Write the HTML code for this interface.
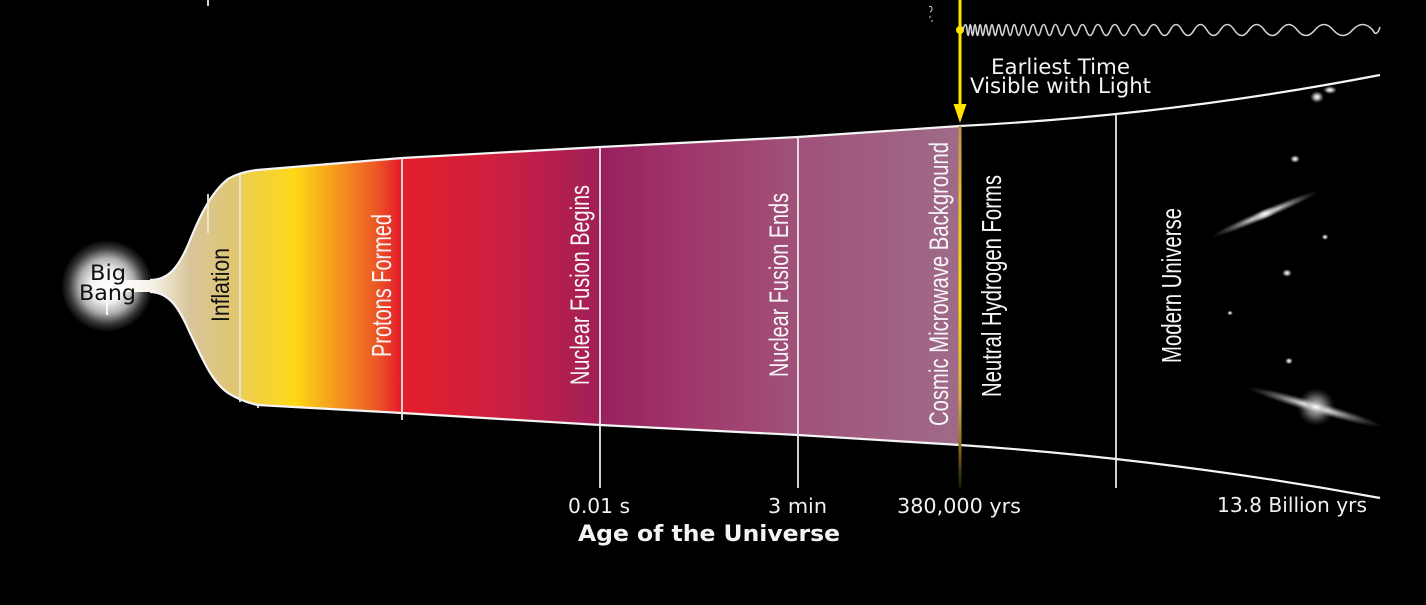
<!DOCTYPE html>
<html>
<head>
<meta charset="utf-8">
<style>
  html, body { margin: 0; padding: 0; background: #000; }
  body { width: 1426px; height: 605px; overflow: hidden; }
  svg { display: block; }
</style>
</head>
<body>
<svg width="1426" height="605" viewBox="0 0 1426 605" xmlns="http://www.w3.org/2000/svg">
  <defs>
    <linearGradient id="band" gradientUnits="userSpaceOnUse" x1="120" y1="0" x2="960" y2="0">
      <stop offset="0" stop-color="#ffffff"/>
      <stop offset="0.036" stop-color="#f6f2e8"/>
      <stop offset="0.06" stop-color="#e8dcc0"/>
      <stop offset="0.083" stop-color="#d8c59c"/>
      <stop offset="0.1405" stop-color="#e0c66c"/>
      <stop offset="0.145" stop-color="#eccf52"/>
      <stop offset="0.208" stop-color="#fdd816"/>
      <stop offset="0.262" stop-color="#f4931f"/>
      <stop offset="0.304" stop-color="#ec5a26"/>
      <stop offset="0.333" stop-color="#e51e2a"/>
      <stop offset="0.452" stop-color="#cc1f40"/>
      <stop offset="0.568" stop-color="#a21f58"/>
      <stop offset="0.574" stop-color="#98205f"/>
      <stop offset="0.69" stop-color="#a03a6c"/>
      <stop offset="0.807" stop-color="#a0527a"/>
      <stop offset="1" stop-color="#9f6b88"/>
    </linearGradient>
    <radialGradient id="glow" cx="107" cy="286" r="46" gradientUnits="userSpaceOnUse">
      <stop offset="0" stop-color="#ffffff"/>
      <stop offset="0.35" stop-color="#f2f2f2"/>
      <stop offset="0.6" stop-color="#b0b0b0"/>
      <stop offset="0.82" stop-color="#3a3a3a"/>
      <stop offset="1" stop-color="#000000"/>
    </radialGradient>
    <linearGradient id="yline" gradientUnits="userSpaceOnUse" x1="0" y1="126" x2="0" y2="488">
      <stop offset="0" stop-color="#c09050"/>
      <stop offset="0.2" stop-color="#e8c030"/>
      <stop offset="0.48" stop-color="#ffe000"/>
      <stop offset="0.75" stop-color="#d8b040"/>
      <stop offset="0.88" stop-color="#8a7020"/>
      <stop offset="1" stop-color="#1a1604"/>
    </linearGradient>
    <radialGradient id="blob">
      <stop offset="0" stop-color="#ffffff" stop-opacity="1"/>
      <stop offset="0.4" stop-color="#d0d0d0" stop-opacity="0.85"/>
      <stop offset="1" stop-color="#808080" stop-opacity="0"/>
    </radialGradient>
    <radialGradient id="disk">
      <stop offset="0" stop-color="#ffffff" stop-opacity="1"/>
      <stop offset="0.3" stop-color="#dddddd" stop-opacity="0.8"/>
      <stop offset="1" stop-color="#888888" stop-opacity="0"/>
    </radialGradient>
    <radialGradient id="bulge">
      <stop offset="0" stop-color="#ffffff" stop-opacity="0.9"/>
      <stop offset="0.5" stop-color="#bbbbbb" stop-opacity="0.55"/>
      <stop offset="1" stop-color="#666666" stop-opacity="0"/>
    </radialGradient>
  </defs>

  <rect x="0" y="0" width="1426" height="605" fill="#000"/>

  <!-- Big Bang glow -->
  <circle cx="107" cy="286" r="46" fill="url(#glow)"/>

  <!-- Main band -->
  <path d="M118,280 L150,280 C168,280 178,268 188,245 C198,220 210,193 228,179 C238,173 248,171 257,170 L402,158 L600,147 L798,137 L960,126 L960,445 L798,435 L600,425 L402,413 L258,405 C248,403 238,399 228,393 C212,382 203,360 190,333 C180,310 170,292 150,292 L118,292 Z" fill="url(#band)"/>

  <!-- Outline curves -->
  <path d="M150,280 C168,280 178,268 188,245 C198,220 210,193 228,179 C238,173 248,171 257,170 L402,158 L600,147 L798,137 L960,126 Q1170,115.4 1380,75" fill="none" stroke="#f4f4f4" stroke-width="2.2"/>
  <path d="M150,292 C170,292 180,310 190,333 C203,360 212,382 228,393 C238,399 248,403 258,405 L402,413 L600,425 L798,435 L960,445 Q1170,459.3 1380,498" fill="none" stroke="#f4f4f4" stroke-width="2.2"/>

  <!-- Vertical divider lines -->
  <g stroke="#e6e6e6" stroke-width="1.8">
    <line x1="240" y1="175" x2="240" y2="402"/>
    <line x1="402" y1="158" x2="402" y2="420"/>
    <line x1="600" y1="147" x2="600" y2="488"/>
    <line x1="798" y1="137" x2="798" y2="488"/>
    <line x1="1116" y1="114" x2="1116" y2="488"/>
    <line x1="208" y1="0" x2="208" y2="6"/>
    <line x1="208" y1="194" x2="208" y2="233" stroke="#f2ead0"/>
    <line x1="107" y1="302" x2="107" y2="315" stroke="#ffffff"/>
    <line x1="258" y1="403" x2="258" y2="408"/>
  </g>

  <!-- CMB yellow boundary -->
  <line x1="960" y1="126" x2="960" y2="488" stroke="url(#yline)" stroke-width="3"/>

  <!-- Yellow arrow -->
  <line x1="960" y1="0" x2="960" y2="108" stroke="#ffe400" stroke-width="3"/>
  <polygon points="953.5,104 966.5,104 960,123" fill="#ffe400"/>
  <circle cx="960" cy="30" r="4" fill="#ffe400"/>

  <!-- tiny marks near top -->
  <g stroke="#cfcfcf" stroke-width="1" fill="none">
    <path d="M929,7 q3,-2 3,2 q0,2 -2,3"/>
    <path d="M930,16 l0,2"/>
    <path d="M932,20 l0,2"/>
  </g>

  <!-- Wave -->
  <path fill="none" stroke="#d2d2d2" stroke-width="1.6" d="M963,30
    Q966.03,19 967.05,30 Q968.12,41 969.19,30 Q970.32,19 971.44,30 Q972.61,41 973.78,30
    Q975.01,19 976.24,30 Q977.53,41 978.81,30 Q980.16,19 981.50,30 Q982.91,41 984.32,30
    Q985.80,19 987.28,30 Q988.83,41 990.37,30 Q991.99,19 993.60,30 Q995.30,41 996.99,30
    Q998.76,19 1000.53,30 Q1002.39,41 1004.25,30 Q1006.19,19 1008.13,30 Q1010.17,41 1012.20,30
    Q1014.33,19 1016.46,30 Q1018.69,41 1020.91,30 Q1023.25,19 1025.58,30 Q1028.03,41 1030.47,30
    Q1033.03,19 1035.58,30 Q1038.26,41 1040.94,30 Q1043.74,19 1046.54,30 Q1049.48,41 1052.41,30
    Q1055.48,19 1058.55,30 Q1061.77,41 1064.99,30 Q1068.36,19 1071.72,30 Q1075.25,41 1078.77,30
    Q1082.46,19 1086.15,30 Q1090.01,41 1093.87,30 Q1097.92,19 1101.96,30 Q1106.19,41 1110.42,30
    Q1114.85,19 1119.28,30 Q1123.92,41 1128.56,30 Q1133.42,19 1138.27,30 Q1143.36,41 1148.44,30
    Q1153.76,19 1159.08,30 Q1164.65,41 1170.22,30 Q1176.06,19 1181.89,30 Q1188.00,41 1194.10,30
    Q1200.49,19 1206.88,30 Q1213.58,41 1220.27,30 Q1227.27,19 1234.27,30 Q1241.61,41 1248.94,30
    Q1256.62,19 1264.29,30 Q1272.33,41 1280.37,30 Q1288.78,19 1297.19,30 Q1306.00,41 1314.80,30
    Q1324.03,19 1333.25,30 Q1342.90,41 1352.55,30 Q1362.66,19 1372.76,30 Q1376.5,38 1380,27"/>

  <!-- Galaxies -->
  <ellipse cx="1317" cy="97" rx="7" ry="6" fill="url(#blob)"/>
  <ellipse cx="1330" cy="90" rx="7" ry="4" fill="url(#blob)"/>
  <ellipse cx="1295" cy="159" rx="5" ry="4" fill="url(#blob)"/>
  <ellipse cx="1265" cy="214" rx="58" ry="5" transform="rotate(-23 1265 214)" fill="url(#disk)"/>
  <ellipse cx="1265" cy="214" rx="14" ry="5" transform="rotate(-23 1265 214)" fill="url(#blob)"/>
  <ellipse cx="1325" cy="237" rx="3.5" ry="3" fill="url(#blob)"/>
  <ellipse cx="1287" cy="273" rx="5" ry="4" fill="url(#blob)"/>
  <ellipse cx="1230" cy="313" rx="3" ry="2.5" fill="url(#blob)"/>
  <ellipse cx="1289" cy="361" rx="4" ry="3.5" fill="url(#blob)"/>
  <circle cx="1316" cy="407" r="19" fill="url(#bulge)"/>
  <ellipse cx="1315" cy="407" rx="70" ry="6" transform="rotate(16 1315 407)" fill="url(#disk)"/>
  <ellipse cx="1316" cy="407" rx="12" ry="6" transform="rotate(16 1316 407)" fill="url(#blob)"/>

  <!-- Big Bang text -->
  <g font-family="'DejaVu Sans', 'Liberation Sans', sans-serif" fill="#111" text-anchor="middle">
    <text x="108" y="280" font-size="21" textLength="36" lengthAdjust="spacingAndGlyphs">Big</text>
    <text x="107.5" y="300" font-size="21" textLength="57" lengthAdjust="spacingAndGlyphs">Bang</text>
  </g>

  <!-- Vertical labels -->
  <g font-family="'Liberation Sans', 'DejaVu Sans', sans-serif">
    <text transform="translate(229,322) rotate(-90)" font-size="25" fill="#111" textLength="74" lengthAdjust="spacingAndGlyphs">Inflation</text>
    <text transform="translate(391,357) rotate(-90)" font-size="28" fill="#f6f6f6" textLength="143" lengthAdjust="spacingAndGlyphs">Protons Formed</text>
    <text transform="translate(589,385) rotate(-90)" font-size="27" fill="#f6f6f6" textLength="200" lengthAdjust="spacingAndGlyphs">Nuclear Fusion Begins</text>
    <text transform="translate(788,377) rotate(-90)" font-size="27" fill="#f6f6f6" textLength="184" lengthAdjust="spacingAndGlyphs">Nuclear Fusion Ends</text>
    <text transform="translate(948,426) rotate(-90)" font-size="27" fill="#f6f6f6" textLength="284" lengthAdjust="spacingAndGlyphs">Cosmic Microwave Background</text>
    <text transform="translate(1001,397) rotate(-90)" font-size="28" fill="#f6f6f6" textLength="222" lengthAdjust="spacingAndGlyphs">Neutral Hydrogen Forms</text>
    <text transform="translate(1181,363) rotate(-90)" font-size="28" fill="#f6f6f6" textLength="155" lengthAdjust="spacingAndGlyphs">Modern Universe</text>
  </g>

  <!-- Earliest Time -->
  <g font-family="'DejaVu Sans', 'Liberation Sans', sans-serif" fill="#f4f4f4">
    <text x="991" y="74" font-size="21" textLength="139" lengthAdjust="spacingAndGlyphs">Earliest Time</text>
    <text x="970" y="93" font-size="21" textLength="181" lengthAdjust="spacingAndGlyphs">Visible with Light</text>
  </g>

  <!-- Axis labels -->
  <g font-family="'DejaVu Sans', 'Liberation Sans', sans-serif" fill="#f0f0f0" font-size="20">
    <text x="568" y="513" textLength="62" lengthAdjust="spacingAndGlyphs">0.01 s</text>
    <text x="768" y="513" textLength="59" lengthAdjust="spacingAndGlyphs">3 min</text>
    <text x="897" y="513" textLength="124" lengthAdjust="spacingAndGlyphs">380,000 yrs</text>
    <text x="1217" y="512" textLength="150" lengthAdjust="spacingAndGlyphs">13.8 Billion yrs</text>
  </g>
  <text x="578" y="541" font-family="'DejaVu Sans', 'Liberation Sans', sans-serif" font-weight="bold" font-size="22" fill="#f4f4f4" textLength="262" lengthAdjust="spacingAndGlyphs">Age of the Universe</text>
</svg>
</body>
</html>
